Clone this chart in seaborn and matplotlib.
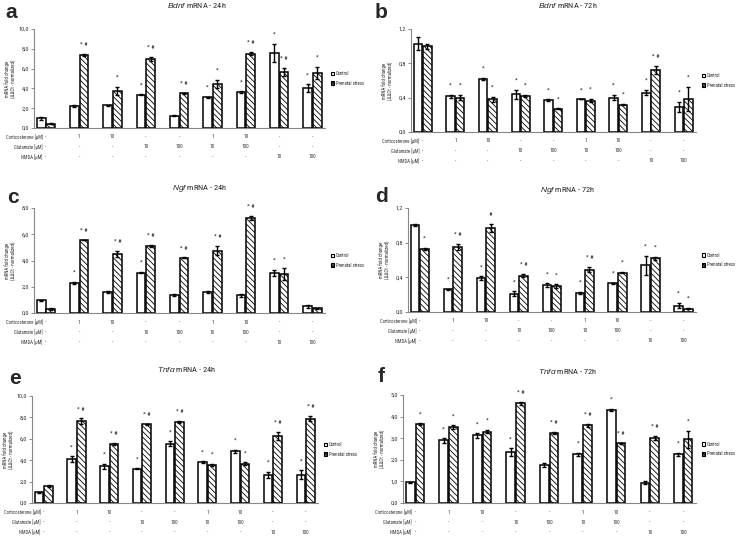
import matplotlib
matplotlib.use("Agg")
import matplotlib.pyplot as plt
import seaborn as sns
import pandas as pd
from matplotlib import font_manager
from matplotlib.patches import Patch
from matplotlib.ticker import FuncFormatter

# treatment table under each chart
groups = ["1", "2", "3", "4", "5", "6", "7", "8", "9"]
cort = ["-", "1", "10", "-", "-", "1", "10", "-", "-"]
glut = ["-", "-", "-", "10", "100", "10", "100", "-", "-"]
nmda = ["-", "-", "-", "-", "-", "-", "-", "10", "100"]
row_labels = ["Corticosterone [µM]", "Glutamate [µM]", "NMDA [µM]"]
conditions = ["Control", "Prenatal stress"]

# a - Bdnf 24h
bdnf24_ctrl = [1.0, 2.25, 2.3, 3.35, 1.25, 3.1, 3.65, 7.6, 4.0]
bdnf24_ps = [0.45, 7.35, 3.75, 7.0, 3.5, 4.45, 7.5, 5.65, 5.6]
bdnf24_ctrl_err = [0.15, 0.08, 0.07, 0.06, 0.07, 0.06, 0.07, 0.9, 0.4]
bdnf24_ps_err = [0.05, 0.1, 0.4, 0.2, 0.05, 0.4, 0.15, 0.4, 0.6]
bdnf24_ctrl_sig = ["", "", "", "*", "", "*", "*", "*", "*"]
bdnf24_ps_sig = ["", "* #", "*", "* #", "* #", "*", "* #", "* #", "*"]

# b - Bdnf 72h
bdnf72_ctrl = [1.03, 0.415, 0.62, 0.44, 0.37, 0.38, 0.40, 0.46, 0.29]
bdnf72_ps = [1.0, 0.40, 0.38, 0.42, 0.27, 0.365, 0.32, 0.72, 0.385]
bdnf72_ctrl_err = [0.08, 0.02, 0.01, 0.05, 0.01, 0.0, 0.03, 0.03, 0.06]
bdnf72_ps_err = [0.03, 0.03, 0.03, 0.01, 0.005, 0.02, 0.01, 0.05, 0.14]
bdnf72_ctrl_sig = ["", "*", "*", "*", "*", "*", "*", "*", "*"]
bdnf72_ps_sig = ["", "*", "*", "*", "*", "*", "*", "* #", "*"]

# c - Ngf 24h
ngf24_ctrl = [0.97, 2.3, 1.6, 3.07, 1.4, 1.58, 1.35, 3.05, 0.5]
ngf24_ps = [0.3, 5.55, 4.5, 5.1, 4.2, 4.75, 7.25, 2.95, 0.35]
ngf24_ctrl_err = [0.05, 0.08, 0.08, 0.05, 0.08, 0.08, 0.1, 0.25, 0.12]
ngf24_ps_err = [0.05, 0.02, 0.2, 0.1, 0.03, 0.35, 0.15, 0.45, 0.03]
ngf24_ctrl_sig = ["", "*", "", "*", "", "", "", "*", ""]
ngf24_ps_sig = ["", "* #", "* #", "* #", "* #", "* #", "* #", "*", ""]

# d - Ngf 72h
ngf72_ctrl = [1.0, 0.26, 0.39, 0.21, 0.31, 0.22, 0.33, 0.54, 0.075]
ngf72_ps = [0.73, 0.75, 0.97, 0.42, 0.30, 0.49, 0.455, 0.62, 0.04]
ngf72_ctrl_err = [0.01, 0.01, 0.02, 0.03, 0.02, 0.01, 0.005, 0.11, 0.03]
ngf72_ps_err = [0.01, 0.03, 0.05, 0.02, 0.02, 0.03, 0.01, 0.02, 0.01]
ngf72_ctrl_sig = ["", "*", "*", "*", "*", "*", "*", "*", "*"]
ngf72_ps_sig = ["*", "* #", "#", "* #", "*", "* #", "*", "*", "*"]

# e - Tnfa 24h
tnf24_ctrl = [1.0, 4.12, 3.44, 3.19, 5.56, 3.81, 4.84, 2.62, 2.65]
tnf24_ps = [1.62, 7.65, 5.5, 7.34, 7.56, 3.56, 3.69, 6.25, 7.87]
tnf24_ctrl_err = [0.05, 0.25, 0.25, 0.05, 0.2, 0.1, 0.15, 0.3, 0.4]
tnf24_ps_err = [0.08, 0.25, 0.1, 0.02, 0.1, 0.08, 0.1, 0.4, 0.25]
tnf24_ctrl_sig = ["", "*", "*", "*", "*", "*", "*", "*", "*"]
tnf24_ps_sig = ["", "* #", "* #", "* #", "* #", "*", "*", "* #", "* #"]

# f - Tnfa 72h
tnf72_ctrl = [0.96, 2.9, 3.13, 2.35, 1.76, 2.25, 4.3, 0.94, 2.25]
tnf72_ps = [3.64, 3.52, 3.3, 4.61, 3.24, 3.6, 2.76, 3.0, 2.95]
tnf72_ctrl_err = [0.03, 0.1, 0.1, 0.18, 0.08, 0.08, 0.06, 0.07, 0.06]
tnf72_ps_err = [0.05, 0.08, 0.08, 0.08, 0.03, 0.06, 0.03, 0.1, 0.4]
tnf72_ctrl_sig = ["", "*", "*", "*", "", "*", "*", "", "*"]
tnf72_ps_sig = ["*", "*", "*", "* #", "* #", "* #", "* #", "* #", "*"]

W, H = 738, 537
HATCH = "\\\\\\\\\\\\"

sns.set_theme(style="ticks")
installed = {f.name for f in font_manager.fontManager.ttflist}
narrow = [n for n in ["Liberation Sans Narrow", "Roboto Condensed", "Open Sans Condensed"]
          if n in installed]
has_narrow = bool(narrow)
plt.rcParams["font.family"] = narrow + ["Liberation Sans", "DejaVu Sans"]
plt.rcParams["mathtext.fontset"] = "custom"
plt.rcParams["mathtext.it"] = "Liberation Sans:italic"
plt.rcParams["mathtext.rm"] = "Liberation Sans"
plt.rcParams["hatch.linewidth"] = 0.6
plt.rcParams["hatch.color"] = "black"

small = 3.4 if has_narrow else 2.9
leg_size = 3.4 if has_narrow else 3.0


def comma(v, pos):
    return f"{v:.1f}".replace(".", ",")


def draw_panel(fig, rect, letter, letter_xy, title, title_xy, data, ymax, ystep):
    l, r, t, b = rect
    ax = fig.add_axes([l / W, 1 - b / H, (r - l) / W, (b - t) / H])
    ctrl, ps, ctrl_err, ps_err, ctrl_sig, ps_sig = data
    df = pd.DataFrame({
        "group": groups * 2,
        "cond": [conditions[0]] * 9 + [conditions[1]] * 9,
        "value": ctrl + ps,
    })
    sns.barplot(data=df, x="group", y="value", hue="cond", order=groups,
                hue_order=conditions, palette=["white", "white"], saturation=1,
                edgecolor="black", linewidth=1.1, width=0.58, gap=0.1,
                errorbar=None, legend=False, ax=ax)
    for bar in ax.containers[1]:
        bar.set_hatch(HATCH)
    for cont, err, sig in zip(ax.containers, [ctrl_err, ps_err], [ctrl_sig, ps_sig]):
        xs = [p.get_x() + p.get_width() / 2 for p in cont]
        hs = [p.get_height() for p in cont]
        ax.errorbar(xs, hs, yerr=err, fmt="none", ecolor="black",
                    elinewidth=1.0, capsize=1.5, capthick=1.0)
        for x, h, e, s in zip(xs, hs, err, sig):
            if s:
                ax.annotate(s, (x, h + e), xytext=(0, 5), textcoords="offset points",
                            ha="center", va="bottom", fontsize=4.5)
    ax.set_xlim(-0.36, 8.38)
    ax.set_ylim(0, ymax)
    ticks = [i * ystep for i in range(int(round(ymax / ystep)) + 1)]
    ax.set_yticks(ticks)
    ax.yaxis.set_major_formatter(FuncFormatter(comma))
    ax.tick_params(axis="y", labelsize=4.5, length=2, width=0.6, color="#777777",
                   labelcolor="#333333", pad=1.5)
    ax.tick_params(axis="x", length=0, labelbottom=False)
    ax.set_xlabel("")
    ax.set_ylabel("mRNA fold change\n(ΔΔCt - normalized)", fontsize=3.5, linespacing=1.1)
    ax.yaxis.set_label_coords(-0.062, 0.5)
    sns.despine(ax=ax)
    for side in ["left", "bottom"]:
        ax.spines[side].set_color("#888888")
        ax.spines[side].set_linewidth(0.8)

    # treatment table
    for k, (lab, row) in enumerate(zip(row_labels, [cort, glut, nmda])):
        off = -(9 + 10 * k) * 0.72
        ax.annotate(lab, (-0.1, 0), xycoords=("data", "axes fraction"),
                    xytext=(0, off), textcoords="offset points",
                    ha="right", va="center", fontsize=small, color="#333333")
        for i, v in enumerate(row):
            ax.annotate(v, (i, 0), xycoords=("data", "axes fraction"),
                        xytext=(0, off), textcoords="offset points",
                        ha="center", va="center", fontsize=3.8, color="#333333")

    ax.legend(handles=[Patch(facecolor="white", edgecolor="black", linewidth=0.8),
                       Patch(facecolor="#555555", edgecolor="black", linewidth=0.8, hatch=HATCH)],
              labels=conditions, loc="center left", bbox_to_anchor=(1.0, 0.5),
              frameon=False, fontsize=leg_size,
              handlelength=0.8, handleheight=0.9,
              handletextpad=0.3, labelspacing=1.0, borderaxespad=0.8)

    fig.text(letter_xy[0] / W, 1 - letter_xy[1] / H, letter, fontsize=15,
             fontweight="bold", ha="center", va="center", family="Liberation Sans")
    fig.text(title_xy[0] / W, 1 - title_xy[1] / H, title, fontsize=6,
             ha="center", va="center")
    return ax


fig = plt.figure(figsize=(W / 100, H / 100), dpi=100)
fig.patch.set_facecolor("white")

draw_panel(fig, (34, 325, 29, 128), "a", (11, 12), r"$\it{Bdnf}$ mRNA - 24h", (197, 6),
           (bdnf24_ctrl, bdnf24_ps, bdnf24_ctrl_err, bdnf24_ps_err, bdnf24_ctrl_sig, bdnf24_ps_sig),
           10.0, 2.0)
draw_panel(fig, (411, 696, 29, 132), "b", (381, 12), r"$\it{Bdnf}$ mRNA - 72h", (568, 6),
           (bdnf72_ctrl, bdnf72_ps, bdnf72_ctrl_err, bdnf72_ps_err, bdnf72_ctrl_sig, bdnf72_ps_sig),
           1.2, 0.4)
draw_panel(fig, (34, 325, 208, 313), "c", (13, 198), r"$\it{Ngf}$ mRNA - 24h", (200, 188),
           (ngf24_ctrl, ngf24_ps, ngf24_ctrl_err, ngf24_ps_err, ngf24_ctrl_sig, ngf24_ps_sig),
           8.0, 2.0)
draw_panel(fig, (408, 696, 208, 312), "d", (381, 197), r"$\it{Ngf}$ mRNA - 72h", (568, 190),
           (ngf72_ctrl, ngf72_ps, ngf72_ctrl_err, ngf72_ps_err, ngf72_ctrl_sig, ngf72_ps_sig),
           1.2, 0.4)
draw_panel(fig, (32, 318, 396, 503), "e", (15, 378), r"$\it{Tnf\alpha}$ mRNA - 24h", (187, 370),
           (tnf24_ctrl, tnf24_ps, tnf24_ctrl_err, tnf24_ps_err, tnf24_ctrl_sig, tnf24_ps_sig),
           10.0, 2.0)
draw_panel(fig, (403, 696, 395, 503), "f", (381, 377), r"$\it{Tnf\alpha}$ mRNA - 72h", (568, 372),
           (tnf72_ctrl, tnf72_ps, tnf72_ctrl_err, tnf72_ps_err, tnf72_ctrl_sig, tnf72_ps_sig),
           5.0, 1.0)

fig.savefig("out.png", dpi=100, facecolor="white")
